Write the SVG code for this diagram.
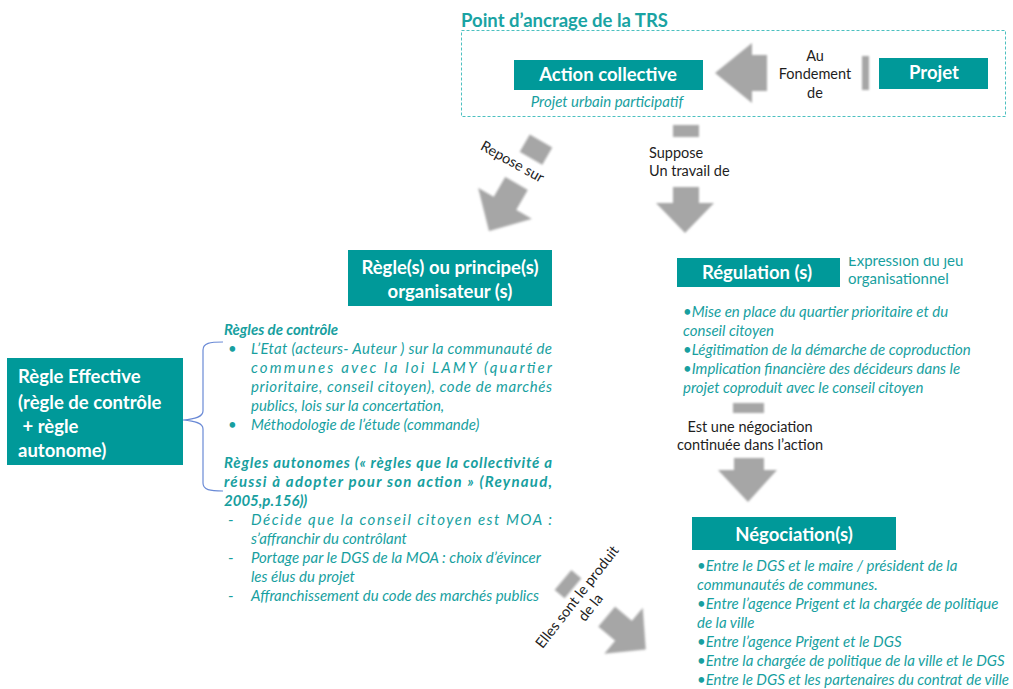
<svg xmlns="http://www.w3.org/2000/svg" width="1013" height="689" viewBox="0 0 1013 689">
<defs>
<style>
.box{fill:#009999}
.bt{font-family:Lato,"Liberation Sans",sans-serif;font-weight:bold;fill:#fff;font-size:18.5px}
.lbl{font-family:Lato,"Liberation Sans",sans-serif;font-size:14.5px;fill:#1e1e1e}
.it{font-family:Lato,"Liberation Sans",sans-serif;font-style:italic;font-size:15px;fill:#189f9f}
.tx{font-family:Lato,"Liberation Sans",sans-serif;font-size:15px;fill:#189f9f}
.bi{font-weight:bold}
.arr{fill:#a6a6a6;filter:url(#blur)}
</style>
<filter id="blur" x="-20%" y="-20%" width="140%" height="140%"><feGaussianBlur stdDeviation="0.8"/></filter>
<clipPath id="clipExp"><rect x="840" y="257" width="170" height="40"/></clipPath>
</defs>
<rect width="1013" height="689" fill="#fff"/>

<g id="ancrage">
<text x="461" y="27" font-family="Lato,'Liberation Sans',sans-serif" font-weight="bold" font-size="18.5" fill="#1aa3a3">Point d’ancrage de la TRS</text>
<rect x="461.5" y="30.5" width="544" height="86" fill="none" stroke="#4cc0c0" stroke-width="1" stroke-dasharray="3,2"/>
</g>

<g id="connectors">
<g id="arrow-fondement">
<polygon class="arr" points="715,73 752,43 752,55 767,55 767,91 752,91 752,103"/>
<rect class="arr" x="862" y="56" width="7" height="34"/>
<text class="lbl" text-anchor="middle" x="815" y="61">Au</text>
<text class="lbl" text-anchor="middle" x="815" y="79">Fondement</text>
<text class="lbl" text-anchor="middle" x="815" y="98">de</text>
</g>
<g id="arrow-repose">
<g transform="translate(541,141) rotate(30)">
<rect class="arr" x="-13" y="0" width="26" height="20"/>
<polygon class="arr" points="-13,49 13,49 13,72 31,72 0,104 -31,72 -13,72"/>
</g>
<text class="lbl" text-anchor="middle" transform="translate(510,166) rotate(29)">Repose sur</text>
</g>
<g id="arrow-suppose">
<rect class="arr" x="673" y="125" width="26" height="12"/>
<polygon class="arr" points="673,187 699,187 699,203 714,203 685,233 656,203 673,203"/>
<text class="lbl" x="649" y="158">Suppose</text>
<text class="lbl" x="649" y="176">Un travail de</text>
</g>
<g id="arrow-negociation">
<rect class="arr" x="733" y="403" width="31" height="10"/>
<polygon class="arr" points="734,458 764,458 764,470 777,470 748,502 718,470 734,470"/>
<text class="lbl" text-anchor="middle" x="750" y="432">Est une négociation</text>
<text class="lbl" text-anchor="middle" x="750" y="450">continuée dans l’action</text>
</g>
<g id="arrow-produit">
<g transform="translate(563,580) rotate(-50)">
<rect class="arr" x="-13" y="0" width="26" height="13"/>
<polygon class="arr" points="-13,57 13,57 13,79 30,79 0,108 -30,79 -13,79"/>
</g>
<g transform="translate(581,600) rotate(-52)">
<text class="lbl" text-anchor="middle" x="0" y="0">Elles sont le produit</text>
<text class="lbl" text-anchor="middle" x="0" y="17">de la</text>
</g>
</g>
<path id="brace" d="M223,342 C210,342 203,343 203,350 L203,411 C203,417 195,419 183,420 C195,421 203,423 203,429 L203,483 C203,490 210,491 223,491" fill="none" stroke="#6a8ad6" stroke-width="1.2"/>
</g>

<g id="action-collective">
<rect class="box" x="514" y="60" width="189" height="30"/>
<text class="bt" text-anchor="middle" x="608" y="81">Action collective</text>
<text class="it" text-anchor="middle" x="607" y="107">Projet urbain participatif</text>
</g>

<g id="projet">
<rect class="box" x="879" y="58" width="109" height="31"/>
<text class="bt" text-anchor="middle" x="934" y="79">Projet</text>
</g>

<g id="regles-principes">
<rect class="box" x="348" y="250" width="204" height="56"/>
<text class="bt" text-anchor="middle" x="450" y="274">Règle(s) ou principe(s)</text>
<text class="bt" text-anchor="middle" x="450" y="298">organisateur (s)</text>
</g>

<g id="regulation">
<rect class="box" x="677" y="258" width="163" height="29"/>
<text class="bt" text-anchor="middle" x="757" y="279">Régulation (s)</text>
<g clip-path="url(#clipExp)">
<text class="tx" x="848" y="266">Expression du jeu</text>
</g>
<text class="tx" x="848" y="284">organisationnel</text>
<text class="it" x="683" y="317">•Mise en place du quartier prioritaire et du</text>
<text class="it" x="683" y="336">conseil citoyen</text>
<text class="it" x="683" y="355">•Légitimation de la démarche de coproduction</text>
<text class="it" x="683" y="374">•Implication financière des décideurs dans le</text>
<text class="it" x="683" y="393">projet coproduit avec le conseil citoyen</text>
</g>

<g id="negociation">
<rect class="box" x="692" y="517" width="204" height="33"/>
<text class="bt" text-anchor="middle" x="794" y="541">Négociation(s)</text>
<text class="it" x="697" y="571">•Entre le DGS et le maire / président de la</text>
<text class="it" x="697" y="590">communautés de communes.</text>
<text class="it" x="697" y="609">•Entre l’agence Prigent et la chargée de politique</text>
<text class="it" x="697" y="628">de la ville</text>
<text class="it" x="697" y="647">•Entre l’agence Prigent et le DGS</text>
<text class="it" x="697" y="666">•Entre la chargée de politique de la ville et le DGS</text>
<text class="it" x="697" y="685">•Entre le DGS et les partenaires du contrat de ville</text>
</g>

<g id="regle-effective">
<rect class="box" x="7" y="358" width="176" height="107"/>
<text class="bt" x="18" y="383">Règle Effective</text>
<text class="bt" x="18" y="409">(règle de contrôle</text>
<text class="bt" x="18" y="433" xml:space="preserve"> + règle</text>
<text class="bt" x="18" y="457">autonome)</text>
</g>

<g id="regles-detail">
<text class="it bi" x="224" y="335">Règles de contrôle</text>
<text class="tx" x="228" y="354">•</text>
<text class="it" x="251" y="354" textLength="301" lengthAdjust="spacing">L’Etat (acteurs- Auteur ) sur la communauté de</text>
<text class="it" x="251" y="373" textLength="301" lengthAdjust="spacing">communes avec la loi LAMY (quartier</text>
<text class="it" x="251" y="392" textLength="301" lengthAdjust="spacing">prioritaire, conseil citoyen), code de marchés</text>
<text class="it" x="251" y="411">publics, lois sur la concertation,</text>
<text class="tx" x="228" y="430">•</text>
<text class="it" x="251" y="430">Méthodologie de l’étude (commande)</text>
<text class="it bi" x="224" y="468" textLength="328" lengthAdjust="spacing">Règles autonomes (« règles que la collectivité a</text>
<text class="it bi" x="224" y="487" textLength="328" lengthAdjust="spacing">réussi à adopter pour son action » (Reynaud,</text>
<text class="it bi" x="224" y="506">2005,p.156))</text>
<text class="tx" x="228" y="525">-</text>
<text class="it" x="251" y="525" textLength="301" lengthAdjust="spacing">Décide que la conseil citoyen est MOA :</text>
<text class="it" x="251" y="544">s’affranchir du contrôlant</text>
<text class="tx" x="228" y="563">-</text>
<text class="it" x="251" y="563">Portage par le DGS de la MOA : choix d’évincer</text>
<text class="it" x="251" y="582">les élus du projet</text>
<text class="tx" x="228" y="601">-</text>
<text class="it" x="251" y="601">Affranchissement du code des marchés publics</text>
</g>
</svg>
